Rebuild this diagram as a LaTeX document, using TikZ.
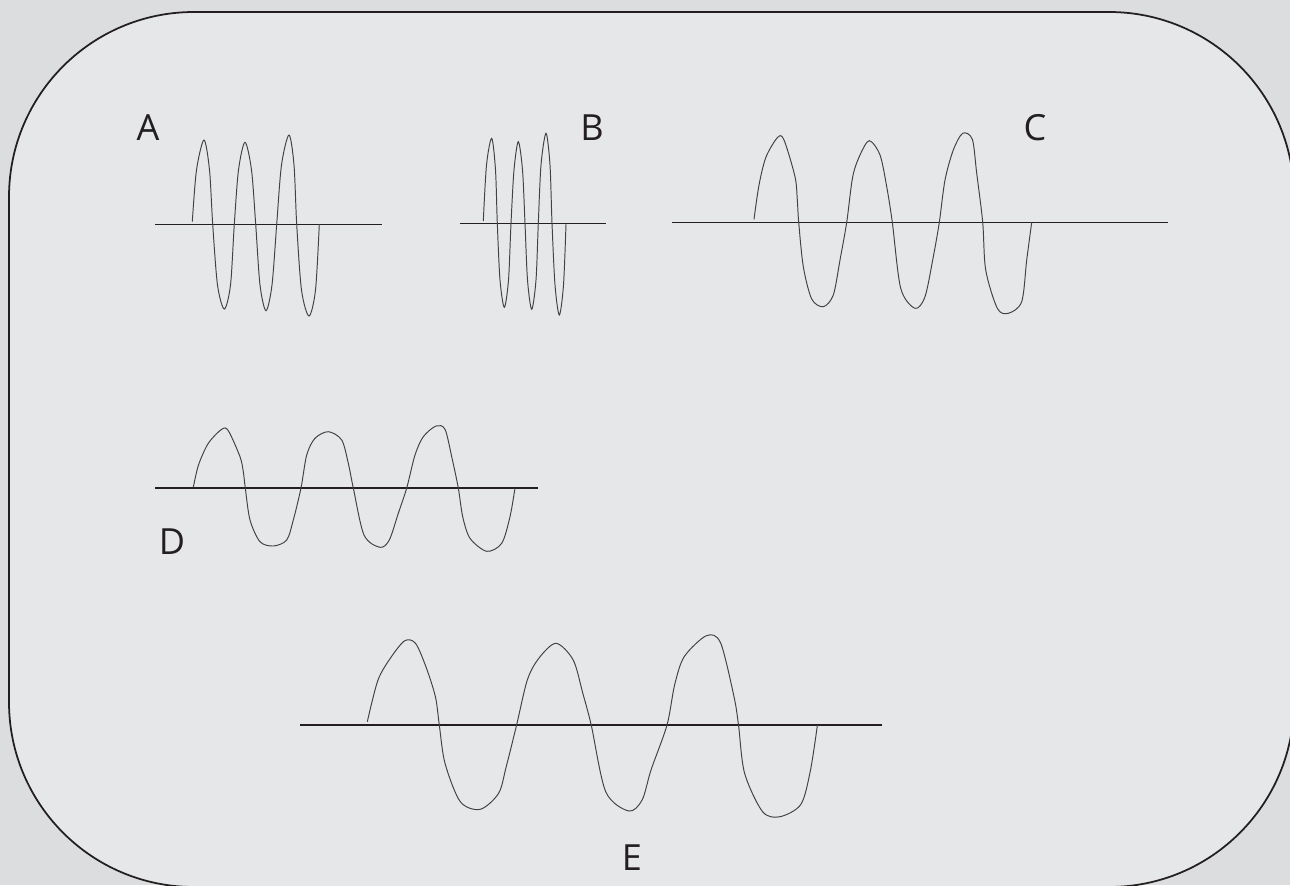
\documentclass[tikz,border=0pt]{standalone}
\usepackage{fontspec}
\setmainfont{Open Sans}
\definecolor{outerbg}{HTML}{DCDDDF}
\definecolor{innerbg}{HTML}{E6E7E8}
\definecolor{ink}{HTML}{231F20}
\begin{document}
\begin{tikzpicture}[x=0.02cm, y=-0.02cm, axis/.style={ink, line width=0.6pt}, wave/.style={ink!85, line width=0.55pt, smooth, tension=0.5}, tag/.style={ink, font=\fontsize{20.5}{24}\selectfont, inner sep=0pt}]
		\useasboundingbox (0,0) rectangle (1290,885);
		\clip (0,0) rectangle (1290,885);
		\fill[outerbg] (0,0) rectangle (1290,885);
		\draw[ink, line width=1pt, fill=innerbg, rounded corners=3.7cm] (9,12) rectangle (1294,887);
		% labels
		\node[tag] (labA) at (148,128) {A};
		\node[tag] (labB) at (592,128) {B};
		\node[tag] (labC) at (1035,128) {C};
		\node[tag] (labD) at (172,542) {D};
		\node[tag] (labE) at (632,858) {E};
		% axes
		\coordinate (a0) at (155,224.3); \coordinate (a1) at (381.7,224.3);
		\coordinate (b0) at (460,223.3); \coordinate (b1) at (606,223.3);
		\coordinate (c0) at (672.3,222.3); \coordinate (c1) at (1167.7,222.3);
		\coordinate (d0) at (155,488); \coordinate (d1) at (538.3,488);
		\coordinate (e0) at (300.3,725); \coordinate (e1) at (882,725);
		\draw[axis] (a0) -- (a1);
		\draw[axis] (b0) -- (b1);
		\draw[axis] (c0) -- (c1);
		\draw[axis] (d0) -- (d1);
		\draw[axis] (e0) -- (e1);
		% waves
		\draw[wave] plot coordinates {(192.3,221.7) (196.5,170) (204,140) (209.5,170) (212.7,224.3) (217.5,285) (224.3,309) (230.5,285) (234.3,224.3) (238.5,170) (245,142.3) (251.5,170) (255.7,224.3) (260,285) (266,310.7) (272,285) (276.7,224.3) (281.5,165) (289,135) (294,165) (296.7,224.3) (301.5,290) (309,316) (315.5,290) (319.3,224.3)};
		\draw[wave] plot coordinates {(483.3,221) (486.5,165) (491.7,138.3) (495.5,170) (497.3,223.3) (500,280) (504.3,307.3) (508.5,280) (511,223.3) (514,170) (518.3,141.7) (522.5,170) (525,223.3) (527.5,280) (531.7,309.3) (536,280) (538.3,223.3) (541,165) (546,133.3) (550,165) (552,223.3) (555,285) (559.3,315) (563.5,285) (566,224)};
		\draw[wave] plot coordinates {(754,219.3) (759,185) (766,157) (777.7,137.3) (784,140) (795,176.7) (797.3,200) (798.7,222.3) (803.3,266.7) (811.7,299) (823.3,306.7) (833.3,295) (840,260) (846.7,222.3) (852.7,176.7) (860,155) (869.3,140.7) (880,155) (886.7,186.7) (892.3,222.3) (900.7,288.3) (915,308.3) (925,296.7) (933.3,256.7) (939.3,222.3) (945,180) (953.3,150) (962.7,133.3) (972.3,139.3) (976.7,173.3) (982.7,222.3) (985.7,270) (997.3,308.3) (1008.3,313.3) (1021.7,301.7) (1026.7,260) (1031.7,222.3)};
		\draw[wave] plot coordinates {(193.3,487.3) (198.5,465) (208.3,443.3) (221.7,429.3) (228.3,430.7) (240,456.7) (243.3,471.7) (245.3,488) (250,520) (260,541.7) (273.3,546) (286.7,540) (293.3,520) (301,488) (306.7,455) (315,438.3) (328.3,431.7) (341.7,440) (348.3,463.3) (353.3,488) (364,535) (380,547.3) (389.3,540) (398.3,513.3) (406.7,488) (415,455) (423.3,436.7) (436,426) (445,429.3) (451.7,456.7) (458.3,488) (462.7,516.7) (470,538.3) (486.7,551.3) (501.7,543.3) (510,516.7) (515,488)};
		\draw[wave] plot coordinates {(367.3,721.7) (378,680) (391.4,656.7) (404.8,640.7) (415.5,643.3) (425.9,666.7) (435.4,696.7) (439.3,725) (445,763.3) (460.3,801.7) (480.2,809.3) (498.6,793.3) (506.2,766.7) (516.6,725) (527.3,680) (538.8,658.3) (556,643.3) (573.2,660) (582.8,693.3) (591.2,725) (605.7,791.7) (628.7,811) (642.1,800) (651,770) (667,725) (674.6,685) (684.2,656.7) (706.4,635.7) (720.5,642.7) (734,696.7) (738.5,725) (744.6,773.3) (762.6,811.7) (779.9,816.7) (800.9,804.3) (810.5,770) (817.4,725)};
	\end{tikzpicture}
\end{document}
